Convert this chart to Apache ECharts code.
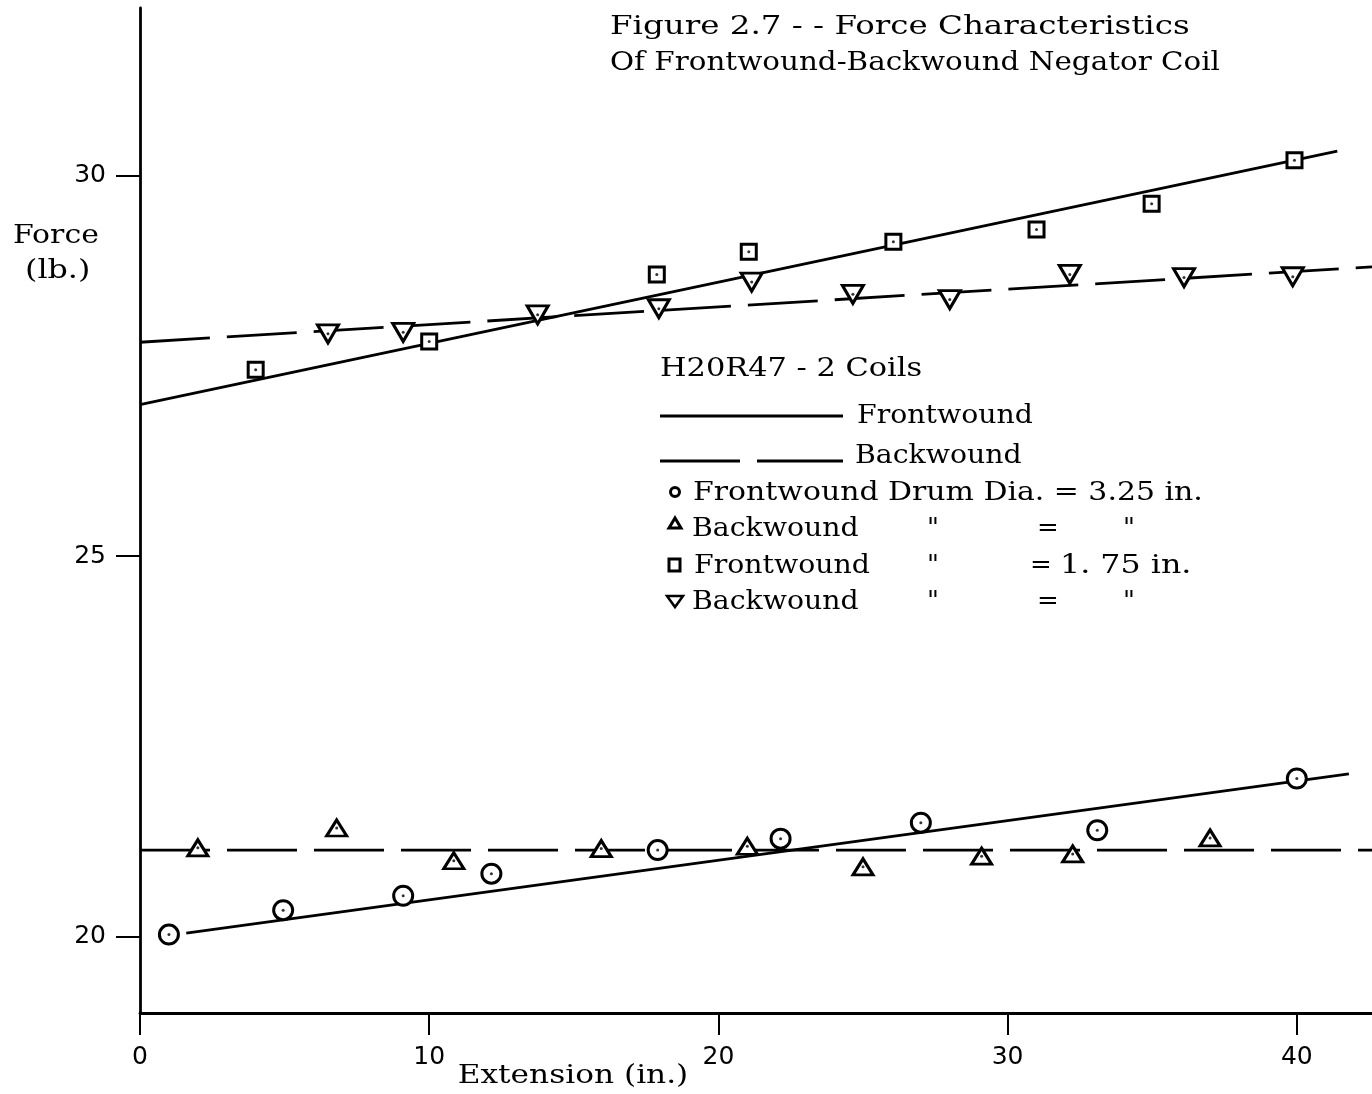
<!DOCTYPE html>
<html>
<head>
<meta charset="utf-8">
<script src="https://cdn.jsdelivr.net/npm/echarts@6/dist/echarts.min.js"></script>
<style>
html,body{margin:0;padding:0;background:#fff;}
#main{width:1372px;height:1094px;}
</style>
</head>
<body>
<div id="main"></div>
<script>
var extF325 = [1.0, 4.95, 9.1, 12.15, 17.9, 22.15, 27.0, 33.1, 40.0];
var forceF325 = [20.03, 20.35, 20.54, 20.83, 21.14, 21.29, 21.5, 21.4, 22.08];
var extB325 = [2.0, 6.8, 10.85, 15.95, 21.0, 25.0, 29.1, 32.25, 37.0];
var forceB325 = [21.17, 21.43, 21.0, 21.16, 21.19, 20.92, 21.06, 21.09, 21.3];
var extF175 = [4.0, 10.0, 17.87, 21.05, 26.05, 31.0, 34.98, 39.92];
var forceF175 = [27.45, 27.82, 28.7, 29.0, 29.13, 29.29, 29.63, 30.2];
var extB175 = [6.5, 9.1, 13.75, 17.94, 21.15, 24.65, 28.0, 32.15, 36.1, 39.86];
var forceB175 = [27.92, 27.94, 28.17, 28.25, 28.6, 28.44, 28.37, 28.7, 28.66, 28.67];

// hand drawn fit lines (end points)
var fitExtF325 = [1.6, 41.8];
var fitForceF325 = [20.05, 22.14];
var fitExtB325 = [0, 42.6];
var fitForceB325 = [21.14, 21.14];
var fitExtF175 = [0, 41.4];
var fitForceF175 = [26.99, 30.32];
var fitExtB175 = [0, 42.6];
var fitForceB175 = [27.81, 28.80];

var xTicks = [0, 10, 20, 30, 40];
var yTicks = [20, 25, 30];

var FONT = '"DejaVu Serif", "Liberation Serif", serif';
var NUMFONT = '"DejaVu Sans", "Noto Sans", sans-serif';

function pairs(xs, ys) {
    return xs.map(function (x, i) { return [x, ys[i]]; });
}

function fitLine(xs, ys, dashed) {
    return {
        type: 'line', data: pairs(xs, ys), symbol: 'none', silent: true,
        lineStyle: {color: '#000', width: 2.8, type: dashed ? [70, 17] : 'solid'},
        z: 2
    };
}

function marks(xs, ys, symbol, size, rotate) {
    return {
        type: 'scatter', data: pairs(xs, ys), symbol: symbol, symbolSize: size,
        symbolRotate: rotate || 0,
        itemStyle: {color: '#fff', borderColor: '#000', borderWidth: 3, opacity: 1},
        z: 3
    };
}

function dots(xs, ys) {
    return {
        type: 'scatter', data: pairs(xs, ys), symbol: 'circle', symbolSize: 3,
        itemStyle: {color: '#000'}, z: 4, silent: true
    };
}

// text, stretched sideways a bit to get the wide typewriter spacing
function txt(s, x, y, sx, size, align) {
    return {
        type: 'text', z: 10, x: x, y: y, scaleX: sx || 1,
        style: {
            text: s, x: 0, y: 0, fill: '#000',
            font: (size || 26) + 'px ' + FONT,
            align: align || 'left', verticalAlign: 'middle'
        }
    };
}

var chart = echarts.init(document.getElementById('main'));

var legendRows = [
    txt('H20R47 - 2 Coils', 660, 369, 1.17),
    {type: 'line', shape: {x1: 660, y1: 416, x2: 843, y2: 416}, style: {stroke: '#000', lineWidth: 2.8}},
    txt('Frontwound', 857, 416, 1.09),
    {type: 'line', shape: {x1: 660, y1: 461, x2: 740, y2: 461}, style: {stroke: '#000', lineWidth: 2.8}},
    {type: 'line', shape: {x1: 757, y1: 461, x2: 843, y2: 461}, style: {stroke: '#000', lineWidth: 2.8}},
    txt('Backwound', 855, 456, 1.09),
    // marker keys
    {type: 'circle', shape: {cx: 675, cy: 492, r: 4.5}, style: {fill: '#fff', stroke: '#000', lineWidth: 3}},
    {type: 'polygon', shape: {points: [[675, 518], [669, 528], [681, 528]]}, style: {fill: '#fff', stroke: '#000', lineWidth: 3}},
    {type: 'rect', shape: {x: 669, y: 559, width: 11, height: 12}, style: {fill: '#fff', stroke: '#000', lineWidth: 3}},
    {type: 'polygon', shape: {points: [[667, 596], [683, 596], [675, 607]]}, style: {fill: '#fff', stroke: '#000', lineWidth: 2.5}},
    txt('Frontwound Drum Dia. = 3.25 in.', 693, 493, 1.15),
    txt('Backwound', 692, 529, 1.09),
    txt('"', 927, 529), txt('=', 1037, 529), txt('"', 1123, 529),
    txt('Frontwound', 694, 566, 1.09),
    txt('"', 927, 566), txt('=', 1030, 566), txt('1. 75 in.', 1060, 566, 1.22),
    txt('Backwound', 692, 602, 1.09),
    txt('"', 927, 602), txt('=', 1037, 602), txt('"', 1123, 602)
];

var option = {
    backgroundColor: '#fff',
    animation: false,
    grid: {left: 140, right: 0, top: 8, bottom: 81, containLabel: false},
    xAxis: {
        type: 'value', min: 0, max: 42.6,
        splitLine: {show: false},
        axisLine: {show: true, onZero: false, lineStyle: {color: '#000', width: 2.8}},
        axisTick: {show: true, customValues: xTicks, length: 22, lineStyle: {color: '#000', width: 2}},
        axisLabel: {customValues: xTicks, margin: 32, color: '#000', fontSize: 25, fontFamily: NUMFONT}
    },
    yAxis: {
        type: 'value', min: 19, max: 32.2,
        splitLine: {show: false},
        axisLine: {show: true, onZero: false, lineStyle: {color: '#000', width: 2.8}},
        axisTick: {show: true, customValues: yTicks, length: 24, lineStyle: {color: '#000', width: 2}},
        axisLabel: {customValues: yTicks, margin: 34, color: '#000', fontSize: 25, fontFamily: NUMFONT}
    },
    graphic: [
        txt('Figure 2.7 - - Force Characteristics', 610, 27, 1.25),
        txt('Of Frontwound-Backwound Negator Coil', 610, 63, 1.13),
        txt('Force', 13, 236, 1.15),
        txt('(lb.)', 25, 271, 1.22),
        txt('Extension (in.)', 573, 1076, 1.2, 26, 'center')
    ].concat(legendRows),
    series: [
        fitLine(fitExtF325, fitForceF325, false),
        fitLine(fitExtB325, fitForceB325, true),
        fitLine(fitExtF175, fitForceF175, false),
        fitLine(fitExtB175, fitForceB175, true),
        marks(extF325, forceF325, 'circle', 19),
        marks(extB325, forceB325, 'triangle', [20, 16]),
        marks(extF175, forceF175, 'rect', 15),
        marks(extB175, forceB175, 'triangle', [21, 18], 180),
        dots(extF325, forceF325),
        dots(extB325, forceB325),
        dots(extF175, forceF175),
        dots(extB175, forceB175)
    ]
};
chart.setOption(option);
</script>
</body>
</html>
